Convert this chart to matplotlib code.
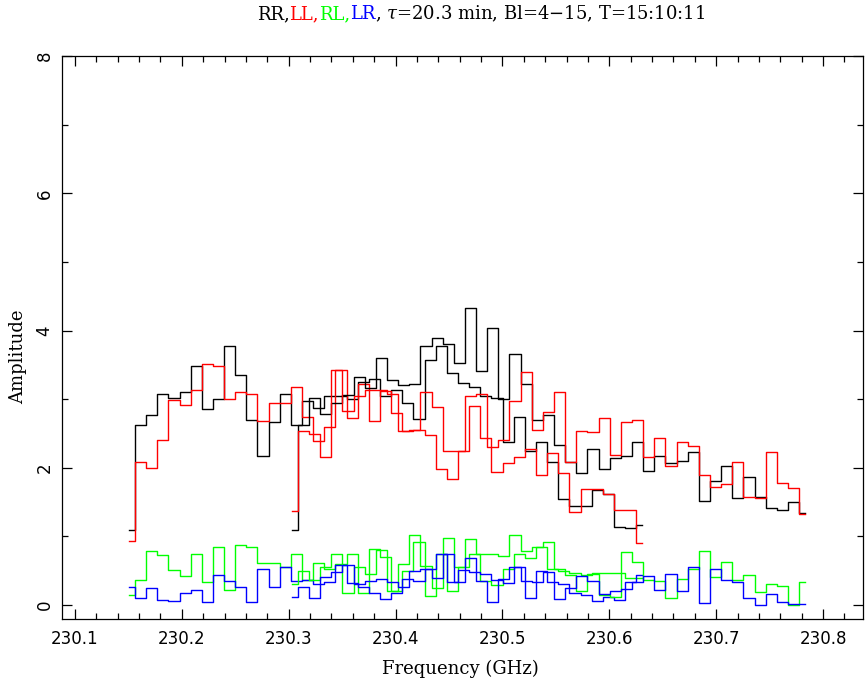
"""
Spectrum of the two spectral windows: parallel and cross hands.
Saves out.png.
"""

import numpy as np
import matplotlib
import matplotlib.pyplot as plt
from matplotlib.ticker import MultipleLocator

matplotlib.use("Agg")
plt.rcParams["mathtext.fontset"] = "dejavuserif"

# channel layout of the two windows (GHz)
n_chan = 47
chan_width = 0.010425
start_w1 = 230.1509
start_w2 = 230.3033

# window 1
rr_w1 = [1.10, 2.63, 2.77, 3.08, 3.01, 3.11, 3.49, 2.86, 3.00, 3.78, 3.35, 2.70, 2.17, 2.67, 3.07, 2.62,
         2.98, 2.87, 3.05, 3.05, 3.00, 3.25, 3.30, 3.05, 3.13, 2.94, 2.71, 3.57, 3.77, 3.38, 3.23, 3.18,
         3.05, 3.01, 2.37, 2.74, 2.24, 2.37, 2.09, 1.54, 1.44, 1.44, 1.68, 1.62, 1.14, 1.12, 1.16]
ll_w1 = [0.93, 2.08, 2.00, 2.40, 2.99, 2.91, 3.14, 3.51, 3.48, 3.00, 3.11, 3.07, 2.68, 2.94, 2.94, 3.18,
         2.74, 2.39, 2.60, 3.42, 2.73, 3.22, 2.68, 3.12, 2.80, 2.53, 2.55, 2.48, 1.98, 1.84, 2.24, 2.90,
         2.43, 1.94, 2.07, 2.15, 2.28, 1.90, 2.21, 1.93, 1.35, 1.69, 1.69, 1.62, 1.38, 1.38, 0.91]
rl_w1 = [0.15, 0.37, 0.79, 0.73, 0.51, 0.43, 0.75, 0.33, 0.85, 0.22, 0.87, 0.84, 0.62, 0.62, 0.56, 0.75,
         0.36, 0.61, 0.52, 0.60, 0.74, 0.17, 0.81, 0.70, 0.20, 0.50, 0.92, 0.13, 0.75, 0.20, 0.55, 0.75,
         0.35, 0.29, 0.52, 0.74, 0.68, 0.85, 0.52, 0.50, 0.46, 0.44, 0.47, 0.46, 0.47, 0.39, 0.40]
lr_w1 = [0.27, 0.10, 0.25, 0.08, 0.06, 0.17, 0.22, 0.05, 0.44, 0.35, 0.26, 0.05, 0.53, 0.27, 0.56, 0.35,
         0.36, 0.30, 0.34, 0.58, 0.32, 0.27, 0.18, 0.09, 0.17, 0.38, 0.35, 0.53, 0.75, 0.33, 0.51, 0.48,
         0.45, 0.36, 0.32, 0.56, 0.10, 0.49, 0.33, 0.30, 0.17, 0.15, 0.06, 0.12, 0.07, 0.34, 0.44]

# window 2
rr_w2 = [1.10, 2.63, 3.01, 2.78, 2.95, 3.06, 3.33, 3.16, 3.60, 3.28, 3.21, 3.22, 3.78, 3.89, 3.81, 3.52,
         4.33, 3.41, 4.03, 3.00, 3.66, 3.22, 2.69, 2.77, 2.33, 2.09, 1.92, 2.28, 1.98, 2.14, 2.17, 2.38,
         1.95, 2.17, 2.07, 2.10, 2.23, 1.51, 1.81, 2.03, 1.56, 1.87, 1.57, 1.41, 1.39, 1.50, 1.34]
ll_w2 = [1.37, 2.54, 2.49, 2.15, 3.43, 2.83, 3.04, 3.14, 3.13, 3.07, 2.53, 2.55, 3.10, 2.89, 2.24, 2.24,
         3.05, 3.07, 2.30, 2.40, 2.97, 3.39, 2.55, 2.82, 3.10, 2.08, 2.54, 2.52, 2.72, 2.18, 2.67, 2.69,
         2.16, 2.43, 2.03, 2.38, 2.32, 1.90, 1.72, 1.77, 2.08, 1.57, 1.56, 2.23, 1.78, 1.70, 1.33]
rl_w2 = [0.30, 0.50, 0.36, 0.55, 0.74, 0.17, 0.55, 0.45, 0.80, 0.20, 0.60, 1.02, 0.57, 0.25, 0.97, 0.56,
         0.96, 0.75, 0.75, 0.72, 1.02, 0.79, 0.85, 0.92, 0.52, 0.44, 0.21, 0.45, 0.15, 0.12, 0.78, 0.63,
         0.36, 0.35, 0.11, 0.38, 0.53, 0.79, 0.41, 0.63, 0.36, 0.44, 0.19, 0.30, 0.28, 0.00, 0.34]
lr_w2 = [0.12, 0.27, 0.11, 0.41, 0.48, 0.58, 0.31, 0.35, 0.38, 0.34, 0.27, 0.50, 0.53, 0.40, 0.74, 0.33,
         0.68, 0.35, 0.05, 0.38, 0.56, 0.35, 0.34, 0.48, 0.09, 0.25, 0.42, 0.35, 0.16, 0.20, 0.23, 0.34,
         0.43, 0.22, 0.45, 0.21, 0.56, 0.03, 0.52, 0.37, 0.33, 0.11, 0.00, 0.16, 0.05, 0.01, 0.02]

title_parts = [("RR,", "black"), ("LL,", "#ff0000"), ("RL,", "#00ff00"), ("LR", "#0000ff"),
               (", $\\tau$=20.3 min, Bl=4$-$15, T=15:10:11", "black")]

pol_colors = ["black", "#ff0000", "#00ff00", "#0000ff"]

freq_w1 = start_w1 + chan_width * np.arange(n_chan)
freq_w2 = start_w2 + chan_width * np.arange(n_chan)

fig = plt.figure(figsize=(8.67, 6.87), dpi=100)
ax = fig.add_axes([0.0712, 0.0985, 0.9242, 0.8200])

for freq, series in [(freq_w1, [rr_w1, ll_w1, rl_w1, lr_w1]),
                     (freq_w2, [rr_w2, ll_w2, rl_w2, lr_w2])]:
    for vals, col in zip(series, pol_colors):
        ax.step(freq, vals, where="mid", color=col, lw=1.0)

ax.set_xlim(230.0876, 230.8374)
ax.set_ylim(-0.208, 8.0)
ax.xaxis.set_major_locator(MultipleLocator(0.1))
ax.xaxis.set_minor_locator(MultipleLocator(0.02))
ax.yaxis.set_major_locator(MultipleLocator(2))
ax.yaxis.set_minor_locator(MultipleLocator(1))
ax.tick_params(which="both", direction="in", top=True, right=True, width=0.9, colors="black")
ax.tick_params(which="major", length=7)
ax.tick_params(which="minor", length=4)
ax.tick_params(axis="x", labelsize=12, pad=8)
ax.tick_params(axis="y", labelsize=12, pad=6)
for lab in ax.get_yticklabels():
    lab.set_rotation(90)
    lab.set_va("center")
for sp in ax.spines.values():
    sp.set_linewidth(0.9)

fig.text(460 / 867, 1 - 669 / 687, "Frequency (GHz)", ha="center", va="center",
         fontsize=13, family="DejaVu Serif")
fig.text(18 / 867, 1 - 357 / 687, "Amplitude", ha="center", va="center", rotation=90,
         fontsize=13, family="DejaVu Serif")

# coloured title, pieces laid out side by side and centred as a whole
renderer = fig.canvas.get_renderer()
texts = [fig.text(0, 1 - 14 / 687, s, color=c, fontsize=13, family="DejaVu Serif",
                  ha="left", va="center") for s, c in title_parts]
widths = [t.get_window_extent(renderer).width for t in texts]
x = 481 - sum(widths) / 2
for t, w in zip(texts, widths):
    t.set_x(x / 867)
    x += w

fig.savefig("out.png", dpi=100)
plt.close()
